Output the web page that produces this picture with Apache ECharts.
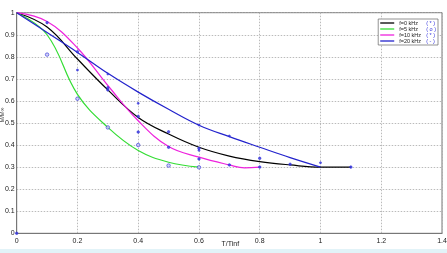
<!DOCTYPE html>
<html><head><meta charset="utf-8">
<script src="https://cdn.jsdelivr.net/npm/echarts@6/dist/echarts.min.js"></script>
<style>html,body{margin:0;padding:0;background:#fff}#c{width:447px;height:253px}</style>
</head><body><div id="c"></div>
<script>
// curve data [T/Tinf, M/Ms]
const f0Curve = [[0,1],[0.1,0.935],[0.2,0.79],[0.3,0.65],[0.4,0.525],[0.5,0.45],[0.6,0.39],[0.7,0.35],[0.8,0.325],[0.9,0.31],[1.0,0.30],[1.1,0.30]];
const f5Curve = [[0,1],[0.1,0.9],[0.2,0.63],[0.3,0.48],[0.4,0.375],[0.5,0.322],[0.6,0.30]];
const f10Curve = [[0,1],[0.1,0.96],[0.2,0.84],[0.3,0.67],[0.4,0.51],[0.5,0.393],[0.6,0.345],[0.7,0.31],[0.75,0.297],[0.8,0.30]];
const f20Curve = [[0,1],[0.1,0.91],[0.2,0.82],[0.3,0.725],[0.4,0.64],[0.5,0.562],[0.6,0.49],[0.7,0.438],[0.8,0.39],[0.9,0.343],[1.0,0.30]];
// measured points
const f0Points = [[0,0],[0.3,0.66],[0.4,0.53],[0.5,0.46],[0.6,0.385],[0.8,0.34],[0.9,0.313],[1.1,0.30]];
const f5Points = [[0.1,0.81],[0.2,0.61],[0.3,0.48],[0.4,0.40],[0.5,0.307],[0.6,0.299]];
const f10Points = [[0.1,0.955],[0.2,0.823],[0.3,0.65],[0.4,0.459],[0.5,0.39],[0.6,0.337],[0.7,0.31],[0.8,0.30]];
const f20Points = [[0.2,0.74],[0.3,0.722],[0.4,0.589],[0.6,0.491],[0.6,0.376],[0.7,0.441],[1.0,0.32]];
const names = ['f=0 kHz','f=5 kHz','f=10 kHz','f=20 kHz'];
const markTxt = ['*','o','*','-'];
const xTicks = ['0','0.2','0.4','0.6','0.8','1','1.2','1.4'];
const yTicks = ['0','0.1','0.2','0.3','0.4','0.5','0.6','0.7','0.8','0.9','1'];

const colors = ['#000000','#33dd33','#ee22dd','#2222cc'];
const ptColor = '#3333dd';
const chart = echarts.init(document.getElementById('c'), null, {renderer:'canvas'});
const lineS = (name, data, color) => ({name, type:'line', data, smooth:0.4, showSymbol:false, symbol:'none', lineStyle:{color, width:1.2}, itemStyle:{color}, z:3, animation:false});
const ptS = (name, data, size, fill) => ({name, type:'scatter', data, symbol:'circle', symbolSize:size, itemStyle:{color:fill, borderColor:ptColor, borderWidth:0.8}, z:4, animation:false});
chart.setOption({
  animation:false,
  grid:{left:16.7, right:5, top:12.7, bottom:19.7, show:true, borderColor:'#777', borderWidth:1, containLabel:false, outerBoundsMode:'none'},
  xAxis:{type:'value', min:0, max:1.4, interval:0.2,
    name:'T/Tinf', nameLocation:'middle', nameGap:6, nameMoveOverlap:false, nameTextStyle:{fontSize:7, color:'#222', fontFamily:'Liberation Sans', verticalAlign:'top', padding:[1,0,0,2]},
    axisLine:{show:true, lineStyle:{color:'#777'}}, axisTick:{show:false},
    axisLabel:{fontSize:7, color:'#222', fontFamily:'Liberation Sans', margin:4, formatter:(v)=>xTicks[Math.round(v/0.2)]},
    splitLine:{show:true, lineStyle:{color:'#aaa', type:[1.5,1.5], width:0.8}}},
  yAxis:{type:'value', min:0, max:1, interval:0.1,
    name:'M/M∞', nameLocation:'middle', nameGap:11, nameMoveOverlap:false, nameRotate:90, nameTextStyle:{fontSize:5.5, color:'#333', fontFamily:'Liberation Sans', padding:[0,0,0,16]},
    axisLine:{show:true, lineStyle:{color:'#777'}}, axisTick:{show:false},
    axisLabel:{fontSize:7, color:'#222', fontFamily:'Liberation Sans', margin:2, formatter:(v)=>yTicks[Math.round(v*10)]},
    splitLine:{show:true, lineStyle:{color:'#aaa', type:[1.5,1.5], width:0.8}}},
  legend:{data:names, orient:'vertical', right:9, top:19, itemGap:0, itemWidth:14, itemHeight:1.3, icon:'rect',
    backgroundColor:'#fff', borderColor:'#666', borderWidth:0.7, borderRadius:0, padding:[1,2,1,2],
    formatter:(n)=>'{t|'+n+'}{p|( '+markTxt[names.indexOf(n)]+' )}',
    textStyle:{fontSize:5.5, color:'#222', fontFamily:'Liberation Sans', rich:{t:{fontSize:5.5, width:27, color:'#222'}, p:{fontSize:5.5, color:ptColor}}}},
  graphic:[{type:'rect', left:0, bottom:0, shape:{width:447, height:4}, style:{fill:'#e2f3f8'}, silent:true}],
  series:[
    lineS(names[0], f0Curve, colors[0]),
    lineS(names[1], f5Curve, colors[1]),
    lineS(names[2], f10Curve, colors[2]),
    lineS(names[3], f20Curve, colors[3]),
    ptS('p0', f0Points, 2.5, ptColor),
    ptS('p5', f5Points, 3.5, '#c8c8f0'),
    ptS('p10', f10Points, 2.5, ptColor),
    ptS('p20', f20Points, 2, ptColor)
  ]
});
</script></body></html>
